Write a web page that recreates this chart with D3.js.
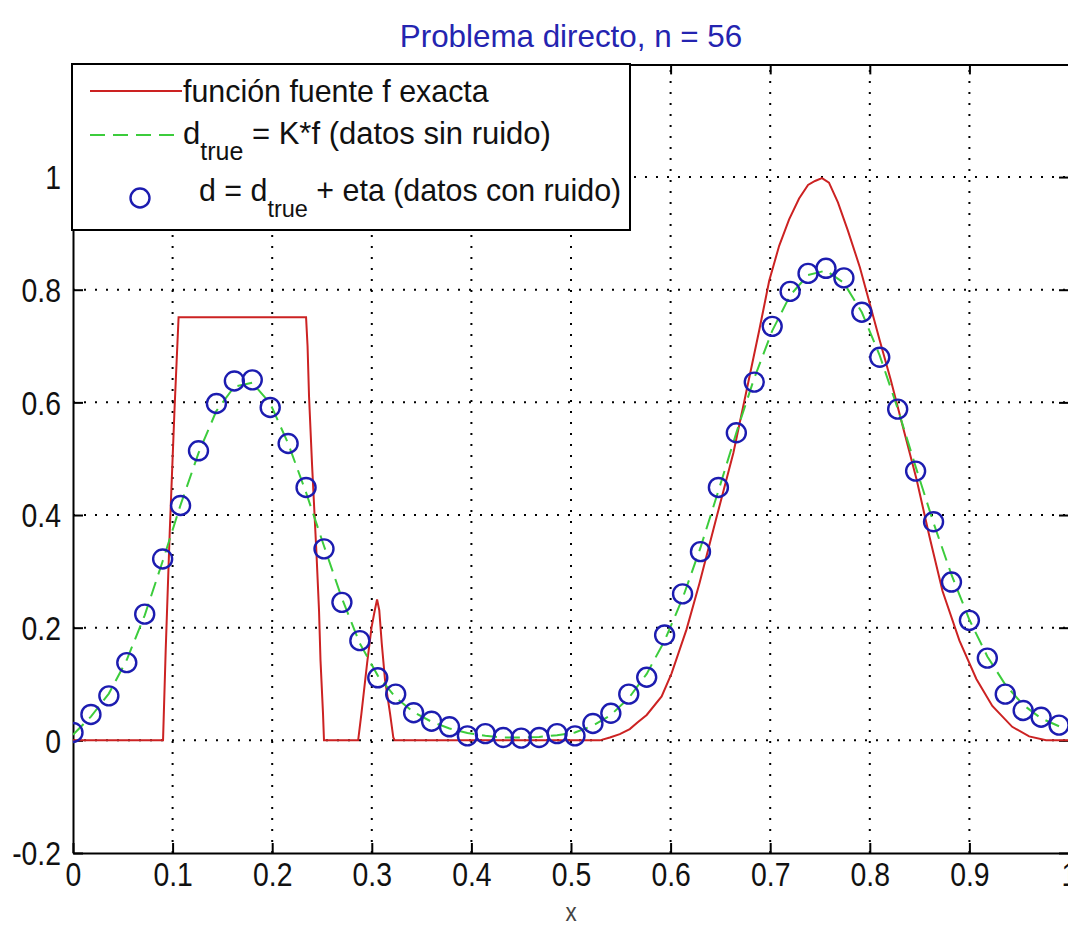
<!DOCTYPE html>
<html>
<head>
<meta charset="utf-8">
<script src="https://cdn.jsdelivr.net/npm/d3@7"></script>
<style>
  html, body { margin: 0; padding: 0; background: #ffffff; }
  svg { display: block; }
  text { font-family: "Liberation Sans", Arial, Helvetica, sans-serif; }
</style>
</head>
<body>
<svg id="chart" width="1068" height="927"></svg>
<script>
// ---------- data ----------
const titleText = "Problema directo, n = 56";
const xLabelText = "x";
const xTicks = [0, 0.1, 0.2, 0.3, 0.4, 0.5, 0.6, 0.7, 0.8, 0.9, 1];
const xTickLabels = ["0", "0.1", "0.2", "0.3", "0.4", "0.5", "0.6", "0.7", "0.8", "0.9", "1"];
const yTicks = [-0.2, 0, 0.2, 0.4, 0.6, 0.8, 1];
const yTickLabels = ["-0.2", "0", "0.2", "0.4", "0.6", "0.8", "1"];
const yGrid = [0, 0.2, 0.4, 0.6, 0.8, 1];

// sample positions of the data (56 points)
const dataX = [0, 0.018, 0.036, 0.054, 0.072, 0.09, 0.108, 0.126, 0.144, 0.162,
  0.18, 0.198, 0.216, 0.234, 0.252, 0.27, 0.288, 0.306, 0.324, 0.342,
  0.36, 0.378, 0.396, 0.414, 0.432, 0.45, 0.468, 0.486, 0.504, 0.522,
  0.54, 0.558, 0.576, 0.594, 0.612, 0.63, 0.648, 0.666, 0.684, 0.702,
  0.72, 0.738, 0.756, 0.774, 0.792, 0.81, 0.828, 0.846, 0.864, 0.882,
  0.9, 0.918, 0.936, 0.954, 0.972, 0.99];
// d = d_true + eta (noisy data, circles)
const dataNoisy = [0.014, 0.046, 0.079, 0.138, 0.224, 0.322, 0.417, 0.514, 0.598, 0.638,
  0.640, 0.591, 0.527, 0.449, 0.340, 0.245, 0.177, 0.111, 0.082, 0.049,
  0.034, 0.024, 0.008, 0.012, 0.005, 0.004, 0.005, 0.012, 0.008, 0.030,
  0.048, 0.082, 0.112, 0.187, 0.260, 0.335, 0.449, 0.546, 0.636, 0.735,
  0.797, 0.829, 0.838, 0.821, 0.760, 0.680, 0.588, 0.478, 0.388, 0.281,
  0.213, 0.146, 0.082, 0.053, 0.041, 0.027];
// d_true = K*f (green dashed)
const dataTrue = [0.010, 0.042, 0.083, 0.143, 0.222, 0.318, 0.418, 0.510, 0.585, 0.628,
  0.635, 0.598, 0.527, 0.440, 0.345, 0.252, 0.172, 0.115, 0.076, 0.050,
  0.033, 0.021, 0.013, 0.008, 0.005, 0.005, 0.006, 0.009, 0.014, 0.026,
  0.045, 0.075, 0.118, 0.177, 0.252, 0.342, 0.443, 0.546, 0.643, 0.727,
  0.790, 0.826, 0.834, 0.812, 0.760, 0.683, 0.589, 0.486, 0.386, 0.294,
  0.214, 0.149, 0.099, 0.063, 0.039, 0.025];
// exact source function f (red line)
const fX = [0, 0.0904, 0.0931, 0.0971, 0.102, 0.106, 0.234, 0.2355, 0.237, 0.240,
  0.2445, 0.247, 0.2485, 0.251, 0.252, 0.2863, 0.2896, 0.2953, 0.2997, 0.303,
  0.3053, 0.3075, 0.310, 0.3133, 0.3183, 0.3216, 0.323, 0.529, 0.539, 0.549,
  0.559, 0.567, 0.576, 0.591, 0.601, 0.616, 0.629, 0.646, 0.663, 0.676,
  0.689, 0.699, 0.709, 0.719, 0.729, 0.738, 0.745, 0.752, 0.759, 0.768,
  0.778, 0.790, 0.800, 0.810, 0.821, 0.833, 0.847, 0.860, 0.873, 0.890,
  0.907, 0.923, 0.943, 0.960, 0.977, 1];
const fY = [0, 0, 0.162, 0.369, 0.591, 0.751, 0.751, 0.70, 0.61, 0.49,
  0.33, 0.231, 0.142, 0.048, 0, 0, 0.048, 0.137, 0.200, 0.231,
  0.250, 0.231, 0.172, 0.107, 0.048, 0.005, 0, 0, 0.005, 0.011,
  0.020, 0.032, 0.045, 0.078, 0.119, 0.197, 0.279, 0.395, 0.510, 0.619,
  0.728, 0.816, 0.878, 0.925, 0.962, 0.986, 0.993, 0.998, 0.990, 0.955,
  0.905, 0.840, 0.775, 0.710, 0.640, 0.558, 0.463, 0.361, 0.265, 0.177,
  0.109, 0.061, 0.024, 0.007, 0, 0];

const legendLabels = ["función fuente f exacta", "= K*f (datos sin ruido)", "+ eta (datos con ruido)"];

// ---------- layout ----------
const X0 = 73, X1 = 1069, YT = 64.4, YB = 853;
const colRed = "#cc2222", colGreen = "#3ccc3c", colBlue = "#1c1cb0", colTitle = "#2424b0";
const fsTick = 33, sxTick = 0.86;
const fsLeg = 31, sxLeg = 0.98;

const svg = d3.select("#chart");
const x = d3.scaleLinear().domain([0, 1]).range([X0, X1]);
const y = d3.scaleLinear().domain([-0.2, 1.2]).range([YB, YT]);

svg.append("defs").append("clipPath").attr("id", "clip")
  .append("rect").attr("x", X0).attr("y", YT).attr("width", X1 - X0).attr("height", YB - YT);

// grid
const grid = svg.append("g").attr("stroke", "#000").attr("stroke-width", 2)
  .attr("stroke-dasharray", "2,9");
grid.selectAll("line.gx").data(xTicks.filter(d => d > 0 && d < 1)).join("line")
  .attr("x1", d => x(d)).attr("x2", d => x(d)).attr("y1", YB).attr("y2", YT);
grid.selectAll("line.gy").data(yGrid).join("line")
  .attr("y1", d => y(d)).attr("y2", d => y(d)).attr("x1", X0).attr("x2", X1);

// axes with D3 axis generators (inward ticks)
const tickLen = 10;
const xAxis = d3.axisBottom(x).tickValues(xTicks).tickFormat((d, i) => xTickLabels[i])
  .tickSizeInner(-tickLen).tickSizeOuter(0).tickPadding(10);
const gx = svg.append("g").attr("transform", `translate(0,${YB})`).call(xAxis);
const yAxis = d3.axisLeft(y).tickValues(yTicks).tickFormat((d, i) => yTickLabels[i])
  .tickSizeInner(-tickLen).tickSizeOuter(0).tickPadding(12 / sxTick);
const gy = svg.append("g").attr("transform", `translate(${X0},0)`).call(yAxis);
const xAxisTop = d3.axisTop(x).tickValues(xTicks).tickFormat("").tickSizeInner(-tickLen).tickSizeOuter(0);
svg.append("g").attr("transform", `translate(0,${YT})`).call(xAxisTop);
const yAxisRight = d3.axisRight(y).tickValues(yTicks).tickFormat("").tickSizeInner(-tickLen).tickSizeOuter(0);
svg.append("g").attr("transform", `translate(${X1},0)`).call(yAxisRight);

svg.selectAll(".domain").attr("stroke", "#000").attr("stroke-width", 2);
svg.selectAll(".tick line").attr("stroke", "#000").attr("stroke-width", 2);
gx.selectAll(".tick text").attr("font-size", fsTick).attr("fill", "#111")
  .attr("transform", `scale(${sxTick},1)`);
gy.selectAll(".tick text").attr("font-size", fsTick).attr("fill", "#111").attr("dy", "0.36em")
  .attr("transform", `scale(${sxTick},1)`);

// plot content
const plot = svg.append("g").attr("clip-path", "url(#clip)");
const fData = fX.map((v, i) => [v, fY[i]]);
plot.append("path").datum(fData)
  .attr("d", d3.line().x(d => x(d[0])).y(d => y(d[1])))
  .attr("fill", "none").attr("stroke", colRed).attr("stroke-width", 2);
const tData = dataX.map((v, i) => [v, dataTrue[i]]);
plot.append("path").datum(tData)
  .attr("d", d3.line().x(d => x(d[0])).y(d => y(d[1])))
  .attr("fill", "none").attr("stroke", colGreen).attr("stroke-width", 2)
  .attr("stroke-dasharray", "15,8");
plot.selectAll("circle.pt").data(dataX.map((v, i) => [v, dataNoisy[i]])).join("circle")
  .attr("cx", d => x(d[0])).attr("cy", d => y(d[1])).attr("r", 9.5)
  .attr("fill", "none").attr("stroke", colBlue).attr("stroke-width", 2.4);

// title and x label
svg.append("g").attr("transform", `translate(${(X0 + X1) / 2},47) scale(0.98,1)`)
  .append("text").attr("text-anchor", "middle")
  .attr("font-size", 32).attr("fill", colTitle).text(titleText);
svg.append("g").attr("transform", `translate(${(X0 + X1) / 2},921) scale(0.86,1)`)
  .append("text").attr("text-anchor", "middle")
  .attr("font-size", 26).attr("fill", "#444").text(xLabelText);

// legend
const lg = svg.append("g");
lg.append("rect").attr("x", 72).attr("y", 64).attr("width", 558).attr("height", 166)
  .attr("fill", "#fff").attr("stroke", "#000").attr("stroke-width", 2);
lg.append("line").attr("x1", 90).attr("x2", 182).attr("y1", 91).attr("y2", 91)
  .attr("stroke", colRed).attr("stroke-width", 2);
lg.append("line").attr("x1", 90).attr("x2", 182).attr("y1", 135).attr("y2", 135)
  .attr("stroke", colGreen).attr("stroke-width", 2).attr("stroke-dasharray", "15,8");
lg.append("circle").attr("cx", 140).attr("cy", 198).attr("r", 9.5)
  .attr("fill", "none").attr("stroke", colBlue).attr("stroke-width", 2.4);
lg.append("g").attr("transform", `translate(183,102) scale(${sxLeg},1)`)
  .append("text").attr("font-size", fsLeg).attr("fill", "#111").text(legendLabels[0]);
const t2 = lg.append("g").attr("transform", `translate(183,144) scale(1.0,1)`)
  .append("text").attr("font-size", fsLeg).attr("fill", "#111");
t2.append("tspan").text("d");
t2.append("tspan").attr("font-size", 25).attr("dy", 16).text("true");
t2.append("tspan").attr("dy", -16).text(" " + legendLabels[1]);
const t3 = lg.append("g").attr("transform", `translate(199,201) scale(${sxLeg},1)`)
  .append("text").attr("font-size", fsLeg).attr("fill", "#111");
t3.append("tspan").text("d = d");
t3.append("tspan").attr("font-size", 24).attr("dy", 16).text("true");
t3.append("tspan").attr("dy", -16).text(" " + legendLabels[2]);
</script>
</body>
</html>
